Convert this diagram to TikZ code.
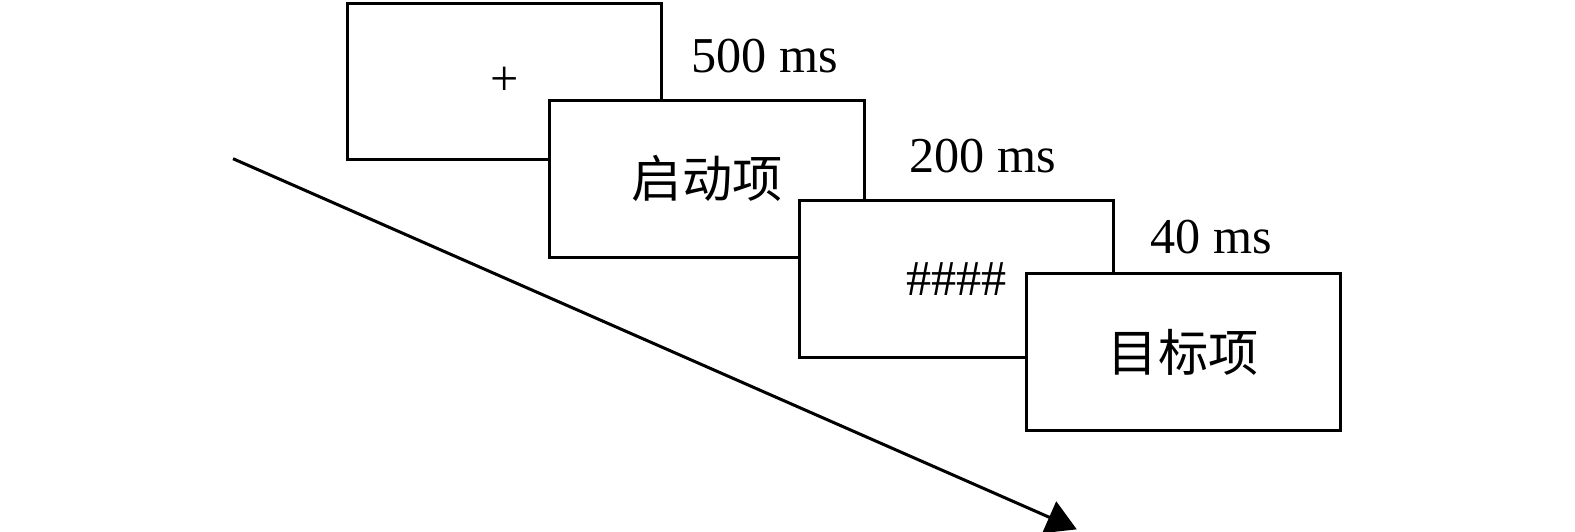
\documentclass[tikz,border=0pt]{standalone}
\usepackage{fontspec}
\setmainfont{Liberation Serif}
\newfontfamily\cjk{Noto Sans CJK SC}
\usetikzlibrary{arrows.meta}
\begin{document}
\begin{tikzpicture}[x=0.5pt,y=-0.5pt,
  box/.style={draw, line width=1.5pt, fill=white, minimum width=156.5pt, minimum height=78pt, inner sep=0pt, font=\fontsize{25}{30}\selectfont},
  lbl/.style={inner sep=0pt, anchor=base west, font=\fontsize{25}{30}\selectfont},
  timeline/.style={line width=1.5pt, -{Triangle[length=15pt,width=17pt]}}]
\useasboundingbox (0,0) rectangle (1568,529);
\coordinate (s) at (232,158);
\coordinate (e) at (1072,527);
\draw[timeline] (s) -- (e);
\node[box] (b1) at (502.5,81) {+};
\node[box] (b2) at (704,178) {\cjk 启动项};
\node[box] (b3) at (952.5,277.5) {\#\#\#\#};
\node[box] (b4) at (1178,350.5) {\cjk 目标项};
\node[lbl] (t1) at (688,72) {500 ms};
\node[lbl] (t2) at (905,172) {200 ms};
\node[lbl] (t3) at (1145,252) {40 ms};
\end{tikzpicture}
\end{document}
